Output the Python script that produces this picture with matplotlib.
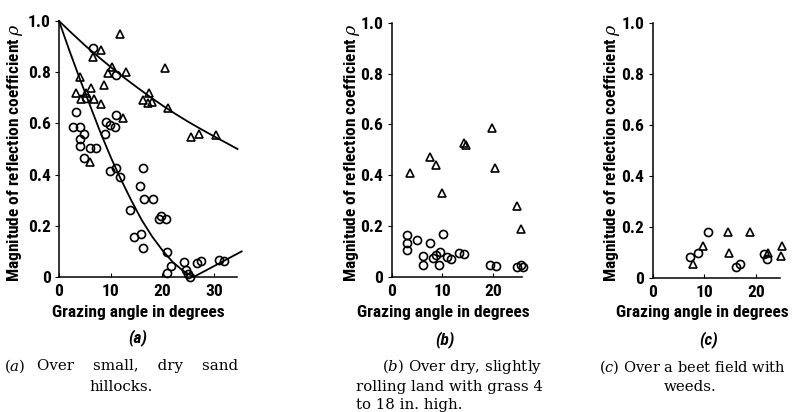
import matplotlib
matplotlib.use("Agg")
import matplotlib.pyplot as plt
from matplotlib import font_manager as fm

# ---------------- data ----------------
# Panel (a): over small, dry sand hillocks
a_tri_x = [11.8, 8.1, 6.6, 10.2, 9.5, 12.9, 4.05, 8.75, 3.2, 5.3, 6.2, 4.2, 6.8, 8.2,
           12.4, 6.0, 17.3, 16.3, 17.2, 18.0, 20.4, 21.0, 25.6, 27.1, 30.3]
a_tri_y = [0.948, 0.887, 0.86, 0.82, 0.795, 0.80, 0.78, 0.75, 0.717, 0.72, 0.737, 0.695, 0.695, 0.674,
           0.622, 0.45, 0.717, 0.69, 0.68, 0.685, 0.815, 0.66, 0.546, 0.559, 0.555]
a_cir_x = [6.6, 11.0, 3.2, 2.8, 4.05, 4.05, 4.9, 4.05, 4.8, 6.0, 7.1, 9.0, 9.8, 10.8, 11.1, 8.9, 5.3,
           9.8, 11.0, 11.8, 16.2, 15.6, 16.4, 18.2, 13.7, 19.4, 19.8, 20.7, 14.5, 15.8, 16.2,
           20.9, 20.8, 21.6, 24.2, 24.6, 25.0, 25.3, 26.7, 27.4, 30.9, 31.9]
a_cir_y = [0.893, 0.79, 0.646, 0.587, 0.587, 0.54, 0.56, 0.51, 0.466, 0.503, 0.503, 0.604, 0.594, 0.587, 0.633, 0.56, 0.70,
           0.416, 0.427, 0.39, 0.425, 0.355, 0.303, 0.303, 0.262, 0.225, 0.238, 0.225, 0.155, 0.168, 0.112,
           0.099, 0.014, 0.043, 0.06, 0.027, 0.012, 0.001, 0.053, 0.064, 0.066, 0.064]
# fitted curves drawn in panel (a)
a_upper_x = [0, 2.5, 5, 7.5, 10, 12.5, 15, 17.5, 20, 22.5, 25, 27.5, 30, 32.5, 34.5]
a_upper_y = [1.0, 0.952, 0.905, 0.862, 0.82, 0.78, 0.742, 0.705, 0.67, 0.637, 0.606, 0.577, 0.549, 0.522, 0.50]
a_lower_x = [0, 2, 4, 6, 8, 10, 12, 14, 16, 18, 20, 22, 24, 26, 35.3]
a_lower_y = [1.0, 0.885, 0.775, 0.67, 0.565, 0.468, 0.38, 0.298, 0.222, 0.158, 0.104, 0.058, 0.024, 0.0, 0.10]

# Panel (b): over dry, slightly rolling land with grass
b_tri_x = [3.6, 7.5, 8.8, 9.9, 14.3, 14.7, 19.9, 20.5, 24.8, 25.5]
b_tri_y = [0.41, 0.47, 0.44, 0.33, 0.525, 0.52, 0.585, 0.426, 0.28, 0.186]
b_cir_x = [3.0, 3.0, 3.0, 5.1, 7.5, 6.1, 6.1, 8.1, 8.8, 9.3, 9.6, 10.1, 10.9, 11.7, 13.4, 14.2,
           19.5, 20.7, 24.8, 25.5, 25.9]
b_cir_y = [0.164, 0.134, 0.105, 0.144, 0.134, 0.081, 0.046, 0.072, 0.085, 0.046, 0.098, 0.17, 0.079, 0.068,
           0.094, 0.089, 0.046, 0.042, 0.039, 0.046, 0.04]

# Panel (c): over a beet field with weeds
c_tri_x = [7.8, 9.7, 14.6, 14.9, 18.8, 22.3, 25.1, 24.8]
c_tri_y = [0.055, 0.127, 0.18, 0.098, 0.18, 0.10, 0.127, 0.088]
c_cir_x = [7.3, 8.8, 10.7, 16.2, 16.9, 22.1, 21.6]
c_cir_y = [0.085, 0.098, 0.183, 0.046, 0.055, 0.075, 0.095]

y_ticks = [0, 0.2, 0.4, 0.6, 0.8, 1.0]
y_ticklabels = ["0", "0.2", "0.4", "0.6", "0.8", "1.0"]
xlabel = "Grazing angle in degrees"
ylabel = r"Magnitude of reflection coefficient $\rho$"

# ---------------- fonts ----------------
names = {f.name for f in fm.fontManager.ttflist}
if "Liberation Sans Narrow" in names:
    SANS, STRETCH = "Liberation Sans Narrow", "normal"
elif "Roboto Condensed" in names:
    SANS, STRETCH = "Roboto Condensed", "normal"
else:
    SANS, STRETCH = "DejaVu Sans", "condensed"
SERIF = "DejaVu Serif"
plt.rcParams["mathtext.fontset"] = "dejavuserif"

W, H = 793, 412
fig = plt.figure(figsize=(W / 100, H / 100), dpi=100)

def fx(px):
    return px / W

def fy(py):
    return 1 - py / H

sans_kw = dict(family=SANS, fontweight="bold", fontstretch=STRETCH)
LBL = 12.5

panels = [
    dict(l=59, r=237, t=21, b=277, xmax=34.4, xt=[0, 10, 20, 30],
         tri=(a_tri_x, a_tri_y), cir=(a_cir_x, a_cir_y)),
    dict(l=391.7, r=521.7, t=22.7, b=276.7, xmax=25.7, xt=[0, 10, 20],
         tri=(b_tri_x, b_tri_y), cir=(b_cir_x, b_cir_y)),
    dict(l=652.7, r=780, t=23.3, b=278.3, xmax=24.7, xt=[0, 10, 20],
         tri=(c_tri_x, c_tri_y), cir=(c_cir_x, c_cir_y)),
]

axes = []
for p in panels:
    ax = fig.add_axes([fx(p["l"]), fy(p["b"]), fx(p["r"] - p["l"]), (p["b"] - p["t"]) / H])
    ax.set_xlim(0, p["xmax"])
    ax.set_ylim(0, 1.0)
    for s in ["top", "right"]:
        ax.spines[s].set_visible(False)
    for s in ["left", "bottom"]:
        ax.spines[s].set_linewidth(1.1)
    ax.set_xticks(p["xt"])
    ax.set_xticklabels([str(v) for v in p["xt"]])
    ax.set_yticks(y_ticks)
    ax.set_yticklabels(y_ticklabels)
    ax.tick_params(axis="y", direction="out", length=3, width=0.8, pad=3)
    ax.tick_params(axis="x", direction="in", length=3, width=0.8, pad=5)
    for lab in ax.get_xticklabels() + ax.get_yticklabels():
        lab.set_fontfamily(SANS)
        lab.set_fontweight("bold")
        lab.set_fontstretch(STRETCH)
        lab.set_fontsize(LBL)
    ax.plot(p["tri"][0], p["tri"][1], linestyle="none", marker="^", ms=6.2, mfc="none",
            mec="black", mew=1.2, clip_on=False)
    ax.plot(p["cir"][0], p["cir"][1], linestyle="none", marker="o", ms=5.8, mfc="none",
            mec="black", mew=1.2, clip_on=False)
    axes.append(ax)

axes[0].plot(a_upper_x, a_upper_y, color="black", lw=1.3, clip_on=False)
axes[0].plot(a_lower_x, a_lower_y, color="black", lw=1.3, clip_on=False)

# axis labels and panel letters
for cx, ylx, letter, lx, ly in [(138, 15, "a", 138, 338), (443, 352, "b", 445, 340), (702, 612, "c", 709, 340)]:
    fig.text(fx(cx), fy(313), xlabel, ha="center", va="center", fontsize=LBL, **sans_kw)
    fig.text(fx(ylx), fy(152), ylabel, ha="center", va="center", rotation=90, fontsize=LBL, **sans_kw)
    fig.text(fx(lx), fy(ly), "(" + letter + ")", ha="center", va="center", fontsize=LBL,
             family=SANS, fontweight="bold", style="italic", fontstretch=STRETCH)

# captions
cap_kw = dict(family=SERIF, fontsize=10.8, va="center")
fig.text(fx(4), fy(366), r"($\mathit{a}$)", ha="left", **cap_kw)
fig.text(fx(238), fy(366), "Over    small,    dry    sand", ha="right", **cap_kw)
fig.text(fx(121), fy(387), "hillocks.", ha="center", **cap_kw)

fig.text(fx(542), fy(367), r"($\mathit{b}$) Over dry, slightly", ha="right", **cap_kw)
fig.text(fx(356), fy(387), "rolling land with grass 4", ha="left", **cap_kw)
fig.text(fx(356), fy(405), "to 18 in. high.", ha="left", **cap_kw)

fig.text(fx(599), fy(367), r"($\mathit{c}$) Over a beet field with", ha="left",
         **dict(cap_kw, fontsize=10.5))
fig.text(fx(690), fy(387), "weeds.", ha="center", **cap_kw)

fig.savefig("out.png", dpi=100)
